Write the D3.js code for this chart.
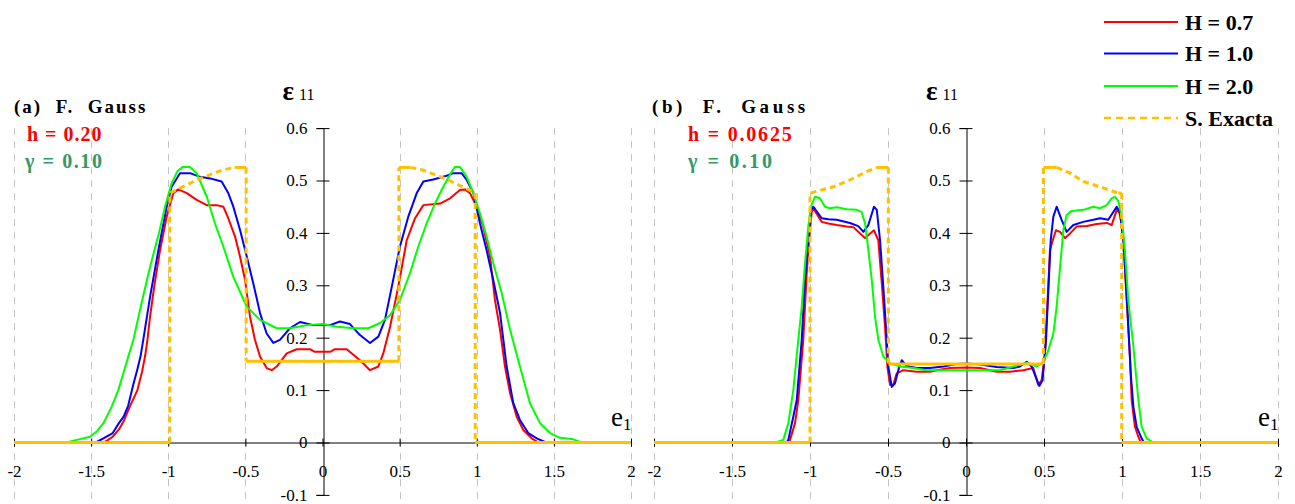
<!DOCTYPE html>
<html><head><meta charset="utf-8">
<script src="https://cdn.jsdelivr.net/npm/d3@7"></script>
<style>
html,body{margin:0;padding:0;background:#fff;}
svg{display:block;font-family:"Liberation Serif","Times New Roman",serif;}
</style></head><body>
<svg id="chart" width="1295" height="504"></svg>
<script>
// ---------- data ----------
const xTicks = [-2,-1.5,-1,-0.5,0,0.5,1,1.5,2];
const yTicks = [-0.1,0,0.1,0.2,0.3,0.4,0.5,0.6];
const seriesNames = ["H = 0.7","H = 1.0","H = 2.0","S. Exacta"];
const seriesColors = ["#ff0000","#0000ff","#00ff00","#ffc000"];

// panel (a): h = 0.20
const aRed = [[-2,0],[-1.42,0],[-1.39,0.005],[-1.36,0.011],[-1.32,0.025],[-1.29,0.04],[-1.25,0.068],[-1.2,0.1],[-1.17,0.135],[-1.15,0.165],[-1.135,0.196],[-1.118,0.24],[-1.09,0.3],[-1.053,0.367],[-1.01,0.431],[-0.967,0.476],[-0.935,0.483],[-0.88,0.476],[-0.816,0.463],[-0.75,0.453],[-0.686,0.453],[-0.643,0.45],[-0.611,0.428],[-0.567,0.393],[-0.535,0.355],[-0.502,0.31],[-0.47,0.24],[-0.438,0.196],[-0.405,0.164],[-0.362,0.142],[-0.329,0.138],[-0.297,0.145],[-0.232,0.17],[-0.167,0.178],[-0.081,0.178],[-0.05,0.173],[0,0.173],[0.05,0.173],[0.08,0.178],[0.157,0.178],[0.243,0.157],[0.308,0.138],[0.362,0.145],[0.394,0.17],[0.438,0.221],[0.491,0.297],[0.546,0.386],[0.6,0.428],[0.654,0.453],[0.762,0.456],[0.827,0.466],[0.891,0.482],[0.924,0.483],[0.956,0.476],[1.0,0.45],[1.042,0.412],[1.086,0.355],[1.118,0.272],[1.151,0.215],[1.183,0.145],[1.216,0.094],[1.259,0.049],[1.302,0.024],[1.356,0.008],[1.4,0],[2,0]];
const aBlue = [[-2,0],[-1.47,0],[-1.42,0.008],[-1.36,0.018],[-1.32,0.037],[-1.29,0.049],[-1.26,0.07],[-1.227,0.11],[-1.2,0.14],[-1.18,0.164],[-1.162,0.196],[-1.118,0.278],[-1.064,0.367],[-1.01,0.45],[-0.978,0.488],[-0.924,0.514],[-0.859,0.514],[-0.794,0.507],[-0.729,0.504],[-0.654,0.498],[-0.611,0.476],[-0.578,0.45],[-0.535,0.406],[-0.491,0.355],[-0.449,0.304],[-0.405,0.247],[-0.362,0.208],[-0.319,0.19],[-0.276,0.196],[-0.211,0.218],[-0.146,0.23],[-0.06,0.224],[0,0.224],[0.049,0.224],[0.113,0.231],[0.178,0.226],[0.243,0.205],[0.308,0.19],[0.362,0.202],[0.405,0.234],[0.449,0.297],[0.502,0.374],[0.556,0.431],[0.611,0.476],[0.654,0.498],[0.718,0.502],[0.805,0.509],[0.848,0.514],[0.902,0.514],[0.935,0.501],[0.978,0.476],[1.021,0.418],[1.064,0.367],[1.107,0.31],[1.151,0.247],[1.194,0.145],[1.237,0.075],[1.28,0.043],[1.334,0.018],[1.389,0.008],[1.45,0],[2,0]];
const aGreen = [[-2,0],[-1.66,0],[-1.58,0.006],[-1.507,0.011],[-1.46,0.022],[-1.42,0.037],[-1.367,0.068],[-1.324,0.1],[-1.29,0.133],[-1.259,0.164],[-1.226,0.196],[-1.17,0.27],[-1.118,0.335],[-1.06,0.4],[-1.021,0.45],[-0.978,0.495],[-0.94,0.518],[-0.905,0.526],[-0.86,0.526],[-0.816,0.514],[-0.75,0.469],[-0.697,0.418],[-0.643,0.374],[-0.578,0.316],[-0.491,0.259],[-0.405,0.234],[-0.297,0.218],[-0.21,0.218],[-0.1,0.224],[0,0.226],[0.092,0.221],[0.2,0.218],[0.297,0.218],[0.373,0.228],[0.438,0.243],[0.502,0.272],[0.567,0.323],[0.621,0.374],[0.675,0.418],[0.729,0.456],[0.783,0.488],[0.838,0.517],[0.859,0.526],[0.891,0.526],[0.935,0.507],[0.978,0.476],[1.021,0.437],[1.064,0.393],[1.107,0.342],[1.162,0.285],[1.216,0.215],[1.28,0.145],[1.345,0.075],[1.41,0.037],[1.475,0.018],[1.54,0.009],[1.626,0.006],[1.68,0],[2,0]];
const aExact = [[-2,0],[-0.99,0],[-0.99,0.476],[-0.95,0.482],[-0.8,0.503],[-0.65,0.52],[-0.57,0.525],[-0.495,0.525],[-0.495,0.155],[0.495,0.155],[0.495,0.525],[0.57,0.525],[0.65,0.52],[0.8,0.503],[0.95,0.482],[0.99,0.476],[0.99,0],[2,0]];

// panel (b): h = 0.0625
const bRed = [[-2,0],[-1.14,0],[-1.128,0.005],[-1.096,0.037],[-1.075,0.081],[-1.043,0.196],[-1.021,0.323],[-1.004,0.393],[-0.989,0.44],[-0.979,0.447],[-0.925,0.421],[-0.882,0.418],[-0.829,0.415],[-0.765,0.412],[-0.722,0.411],[-0.679,0.399],[-0.647,0.39],[-0.615,0.399],[-0.59,0.405],[-0.562,0.386],[-0.54,0.304],[-0.519,0.221],[-0.504,0.145],[-0.487,0.11],[-0.466,0.11],[-0.444,0.132],[-0.402,0.138],[-0.316,0.135],[-0.231,0.135],[-0.188,0.138],[-0.103,0.142],[0.004,0.143],[0.09,0.142],[0.197,0.135],[0.282,0.135],[0.367,0.138],[0.431,0.142],[0.463,0.11],[0.485,0.119],[0.506,0.17],[0.521,0.259],[0.538,0.367],[0.556,0.386],[0.577,0.405],[0.603,0.402],[0.635,0.39],[0.667,0.399],[0.709,0.412],[0.774,0.413],[0.838,0.417],[0.902,0.419],[0.934,0.415],[0.966,0.444],[0.987,0.437],[1.009,0.386],[1.03,0.272],[1.051,0.164],[1.062,0.081],[1.083,0.03],[1.105,0.011],[1.12,0],[2,0]];
const bBlue = [[-2,0],[-1.15,0],[-1.139,0.005],[-1.107,0.049],[-1.085,0.081],[-1.053,0.196],[-1.032,0.31],[-1.011,0.386],[-0.994,0.444],[-0.979,0.45],[-0.925,0.428],[-0.882,0.426],[-0.829,0.425],[-0.744,0.419],[-0.69,0.413],[-0.658,0.402],[-0.626,0.415],[-0.59,0.45],[-0.572,0.444],[-0.551,0.386],[-0.53,0.297],[-0.513,0.221],[-0.498,0.145],[-0.476,0.106],[-0.455,0.113],[-0.434,0.138],[-0.412,0.157],[-0.38,0.146],[-0.316,0.142],[-0.231,0.142],[-0.145,0.145],[-0.06,0.15],[0.004,0.151],[0.09,0.149],[0.197,0.144],[0.303,0.142],[0.346,0.145],[0.389,0.154],[0.421,0.145],[0.47,0.108],[0.491,0.119],[0.513,0.196],[0.528,0.291],[0.543,0.386],[0.56,0.431],[0.581,0.45],[0.613,0.425],[0.645,0.402],[0.688,0.415],[0.752,0.421],[0.816,0.425],[0.859,0.428],[0.912,0.425],[0.966,0.45],[0.987,0.44],[1.009,0.386],[1.034,0.259],[1.056,0.132],[1.073,0.068],[1.094,0.03],[1.126,0.008],[1.14,0],[2,0]];
const bGreen = [[-2,0],[-1.22,0],[-1.171,0.005],[-1.139,0.037],[-1.107,0.1],[-1.075,0.196],[-1.053,0.259],[-1.032,0.342],[-1.011,0.412],[-0.994,0.45],[-0.968,0.469],[-0.936,0.466],[-0.904,0.45],[-0.872,0.447],[-0.829,0.449],[-0.765,0.445],[-0.701,0.444],[-0.669,0.44],[-0.647,0.418],[-0.626,0.367],[-0.604,0.31],[-0.583,0.24],[-0.562,0.196],[-0.53,0.164],[-0.487,0.151],[-0.423,0.145],[-0.338,0.142],[-0.252,0.138],[-0.103,0.138],[0.026,0.138],[0.218,0.138],[0.303,0.145],[0.389,0.152],[0.453,0.145],[0.485,0.151],[0.521,0.17],[0.56,0.208],[0.581,0.259],[0.603,0.335],[0.624,0.405],[0.645,0.434],[0.678,0.442],[0.752,0.444],[0.816,0.45],[0.859,0.447],[0.902,0.453],[0.934,0.466],[0.955,0.469],[0.977,0.46],[0.998,0.431],[1.019,0.367],[1.04,0.272],[1.073,0.183],[1.105,0.081],[1.126,0.03],[1.158,0.008],[1.2,0],[2,0]];
const bExact = [[-2,0],[-1.0,0],[-1.0,0.476],[-0.85,0.488],[-0.744,0.501],[-0.637,0.517],[-0.572,0.525],[-0.498,0.525],[-0.498,0.15],[0.496,0.15],[0.496,0.525],[0.581,0.525],[0.667,0.514],[0.752,0.498],[0.859,0.488],[0.976,0.476],[0.998,0.476],[0.998,0],[2,0]];

// ---------- layout ----------
const panels = [
  {title:"(a)  F.  Gauss", hText:"h = 0.20", gText:"γ = 0.10", series:[aRed,aBlue,aGreen], exact:aExact,
   xr:[14,631], titleX:14, titleLS:2, hX:27, gX:25, hLS:1, gLS:1.6},
  {title:"(b)  F.  Gauss", hText:"h = 0.0625", gText:"γ = 0.10", series:[bRed,bBlue,bGreen], exact:bExact,
   xr:[654,1278], titleX:652, titleLS:3.6, hX:688, gX:688, hLS:1.8, gLS:2.6}
];
const svg = d3.select("#chart");
const y = d3.scaleLinear().domain([-0.1,0.6]).range([494.9,128.1]);

panels.forEach(p => {
  const x = d3.scaleLinear().domain([-2,2]).range(p.xr);
  const g = svg.append("g");
  // gridlines
  g.append("g").selectAll("line").data(xTicks.filter(d=>d!==0)).join("line")
    .attr("x1",d=>Math.round(x(d))+0.5).attr("x2",d=>Math.round(x(d))+0.5)
    .attr("y1",y(0.6)).attr("y2",y(-0.118))
    .attr("stroke","#c4c4c4").attr("stroke-width",1).attr("stroke-dasharray","7,6");
  // x axis
  const xa = g.append("g").attr("transform",`translate(0,${y(0)})`)
    .call(d3.axisBottom(x).tickValues(xTicks).tickSizeOuter(0).tickSize(4).tickFormat(d=>String(d)));
  xa.select(".domain").attr("stroke","#000");
  xa.selectAll(".tick line").attr("y1",-4).attr("y2",4).attr("stroke","#000");
  xa.selectAll(".tick text").attr("y",22).attr("font-size",17).attr("font-family","Liberation Serif").attr("fill","#000");
  // y axis
  const x0 = Math.round(x(0))+0.5;
  const ya = g.append("g").attr("transform",`translate(${x0},0)`)
    .call(d3.axisLeft(y).tickValues(yTicks).tickSizeOuter(0).tickSize(7).tickPadding(9).tickFormat(d=>String(d)));
  ya.select(".domain").attr("stroke","#000");
  ya.selectAll(".tick line").attr("x1",-7).attr("x2",6).attr("stroke","#000");
  ya.selectAll(".tick text").attr("font-size",17).attr("font-family","Liberation Serif").attr("fill","#000");

  // series
  const line = d3.line().x(d=>x(d[0])).y(d=>y(d[1]));
  p.series.forEach((s,i) => {
    g.append("path").datum(s).attr("d",line).attr("fill","none")
      .attr("stroke",seriesColors[i]).attr("stroke-width",2).attr("stroke-linejoin","round");
  });
  // exact solution: horizontal runs solid, other runs dashed
  const ex = p.exact;
  const runs = [];
  for (let i=0;i<ex.length-1;i++){
    const flat = ex[i][1]===ex[i+1][1];
    const last = runs[runs.length-1];
    if (last && last.flat===flat) last.pts.push(ex[i+1]);
    else runs.push({flat, pts:[ex[i],ex[i+1]]});
  }
  runs.forEach(r => {
    g.append("path").datum(r.pts).attr("d",line).attr("fill","none")
      .attr("stroke",seriesColors[3]).attr("stroke-width",3)
      .attr("stroke-dasharray", r.flat ? null : "6,4");
  });

  // labels
  const eX = x(0) - 40;
  const eps = g.append("text").attr("x",eX).attr("y",100).attr("fill","#000");
  eps.append("tspan").attr("font-size",27).attr("font-weight","bold").text("ε");
  eps.append("tspan").attr("dx",5).attr("font-size",16).text("11");
  const e1 = g.append("text").attr("x",x(2)-20).attr("y",426).attr("fill","#000");
  e1.append("tspan").attr("font-size",27).text("e");
  e1.append("tspan").attr("dy",4).attr("font-size",17).text("1");

  g.append("text").attr("x",p.titleX).attr("y",113).attr("font-size",19).attr("font-weight","bold")
    .style("white-space","pre").attr("letter-spacing",p.titleLS).attr("fill","#000").text(p.title);
  g.append("text").attr("x",p.hX).attr("y",141).attr("font-size",20).attr("font-weight","bold")
    .attr("letter-spacing",p.hLS).attr("fill","#ff0000").text(p.hText);
  g.append("text").attr("x",p.gX).attr("y",168).attr("font-size",20).attr("font-weight","bold")
    .attr("letter-spacing",p.gLS).attr("fill","#339966").text(p.gText);
});

// legend
const legY = [22,53.5,86,118];
const leg = svg.append("g");
seriesNames.forEach((n,i) => {
  leg.append("line").attr("x1",1104).attr("x2",1178).attr("y1",legY[i]).attr("y2",legY[i])
    .attr("stroke",seriesColors[i]).attr("stroke-width",i===3?2.5:2)
    .attr("stroke-dasharray", i===3 ? "7,5" : null);
  leg.append("text").attr("x",1185).attr("y",legY[i]+7.5).attr("font-size",22).attr("font-weight","bold")
    .attr("fill","#000").text(n);
});
</script>
</body></html>
